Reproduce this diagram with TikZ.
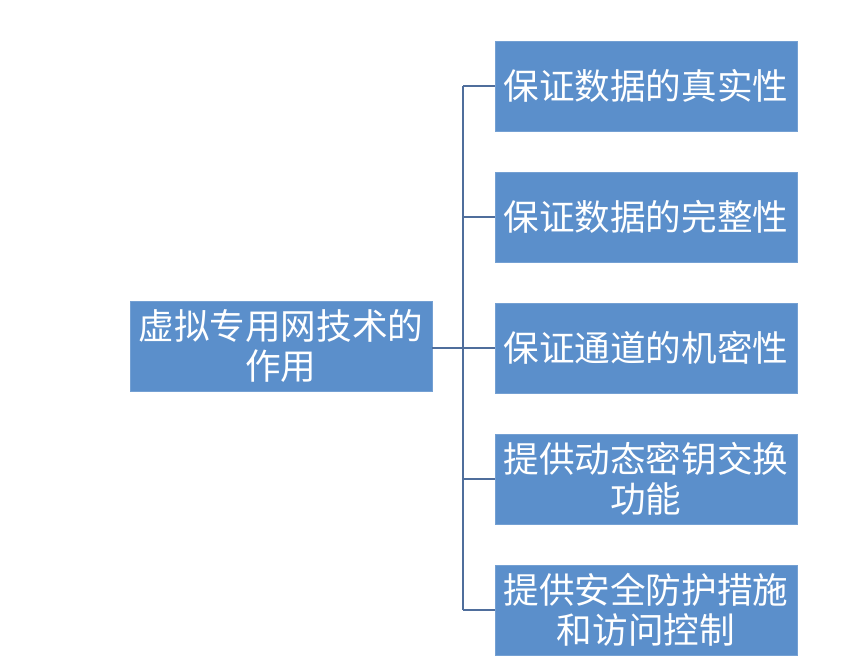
\documentclass[tikz,border=0pt]{standalone}
\usepackage{fontspec}
\setmainfont{Noto Sans CJK SC}
\usetikzlibrary{positioning}

\definecolor{boxblue}{HTML}{5B8FCB}
\definecolor{lineblue}{HTML}{4F6E9C}

\tikzset{
    item/.style = {fill = boxblue, draw = boxblue!85!white, text = white, align = center,
        minimum width = 151pt, minimum height = 45pt, inner sep = 1pt,
        font = \fontsize{17.8pt}{20pt}\selectfont},
    link/.style = {lineblue, line width = 1.1pt}
}

\begin{document}
\begin{tikzpicture}[x = 0.5pt, y = -0.5pt]
        \useasboundingbox (0, 0) rectangle (843, 670);
        \node[item] (root) at (281, 346) {虚拟专用网技术的\\作用};
        \node[item] (a) at (646, 86) {保证数据的真实性};
        \node[item] (b) at (646, 217) {保证数据的完整性};
        \node[item] (c) at (646, 348) {保证通道的机密性};
        \node[item] (d) at (646, 479) {提供动态密钥交换\\功能};
        \node[item] (e) at (646, 610) {提供安全防护措施\\和访问控制};
        \coordinate (trunk) at (463, 348);
        % branches
        \draw[link] (root.east |- trunk) -- (trunk);
        \draw[link] (trunk |- a.west) -- (trunk |- e.west);
        \draw[link] (trunk |- a.west) -- (a.west);
        \draw[link] (trunk |- b.west) -- (b.west);
        \draw[link] (trunk |- c.west) -- (c.west);
        \draw[link] (trunk |- d.west) -- (d.west);
        \draw[link] (trunk |- e.west) -- (e.west);
    \end{tikzpicture}
\end{document}
